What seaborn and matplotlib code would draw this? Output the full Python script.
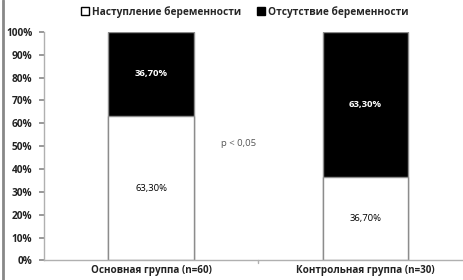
import matplotlib
matplotlib.use("Agg")
import matplotlib.pyplot as plt
import seaborn as sns
import pandas as pd
from matplotlib.patches import Patch
from matplotlib.lines import Line2D
from matplotlib.ticker import FuncFormatter

# data
groups = ["Основная группа (n=60)", "Контрольная группа (n=30)"]
pregnancy = [63.3, 36.7]      # Наступление беременности
no_pregnancy = [36.7, 63.3]   # Отсутствие беременности
series_names = ["Наступление беременности", "Отсутствие беременности"]
p_text = "p < 0,05"

sns.set_theme(style="white")
plt.rcParams['font.family'] = ['Open Sans', 'DejaVu Sans']

df = pd.DataFrame({
    "group": groups,
    "preg": pregnancy,
    "nopreg": no_pregnancy,
})
df["total"] = df["preg"] + df["nopreg"]

fig = plt.figure(figsize=(4.64, 2.8), dpi=100)
ax = fig.add_axes([0.095, 0.07, 0.905, 0.816])

edge = "#8c8c8c"
# black stack (full height), then white lower segment on top of it
sns.barplot(data=df, x="group", y="total", color="black", width=0.40,
            edgecolor=edge, linewidth=1.0, saturation=1, ax=ax)
sns.barplot(data=df, x="group", y="preg", color="white", width=0.40,
            edgecolor=edge, linewidth=1.0, saturation=1, ax=ax)

fmt = lambda v: f"{v:.2f}".replace(".", ",") + "%"
for i, row in df.iterrows():
    ax.text(i, row["preg"] / 2, fmt(row["preg"]), ha="center", va="center",
            fontsize=6.8, color="black")
    ax.text(i, row["preg"] + row["nopreg"] / 2, fmt(row["nopreg"]),
            ha="center", va="center", fontsize=6.8, color="white",
            fontweight="bold")

ax.text(0.41, 51, p_text, ha="center", va="center", fontsize=6.8, color="#555555")

ax.set_ylim(0, 100)
ax.set_xlim(-0.5, 1.46)
ax.set_yticks(range(0, 101, 10))
ax.yaxis.set_major_formatter(FuncFormatter(lambda v, _: f"{int(v)}%"))
ax.set_xlabel("")
ax.set_ylabel("")
ax.tick_params(axis="y", labelsize=7.3, length=3.5, color=edge, pad=5, left=True)
ax.tick_params(axis="x", labelsize=7.1, length=0, pad=3.5)
for lab in ax.get_yticklabels() + ax.get_xticklabels():
    lab.set_fontweight("bold")
    lab.set_color("#222222")

for s in ["top", "right"]:
    ax.spines[s].set_visible(False)
for s in ["left", "bottom"]:
    ax.spines[s].set_color("#b0b0b0")
    ax.spines[s].set_linewidth(1.0)

# category separator tick on the x axis
ax.plot([0.5, 0.5], [0, -1.3], color="#b0b0b0", lw=1.0, clip_on=False)

handles = [Patch(facecolor="white", edgecolor="black", label=series_names[0]),
           Patch(facecolor="black", edgecolor="black", label=series_names[1])]
fig.legend(handles=handles, loc="upper center", bbox_to_anchor=(0.527, 1.012),
           ncol=2, frameon=False, handlelength=0.75,
           handleheight=0.75, handletextpad=0.3, columnspacing=1.6,
           prop={"weight": "bold", "size": 7.3})

# left frame line seen in the reference
fig.add_artist(Line2D([0.006, 0.006], [0, 1], color="#888888", lw=2,
                      transform=fig.transFigure))

fig.savefig("out.png", dpi=100)
